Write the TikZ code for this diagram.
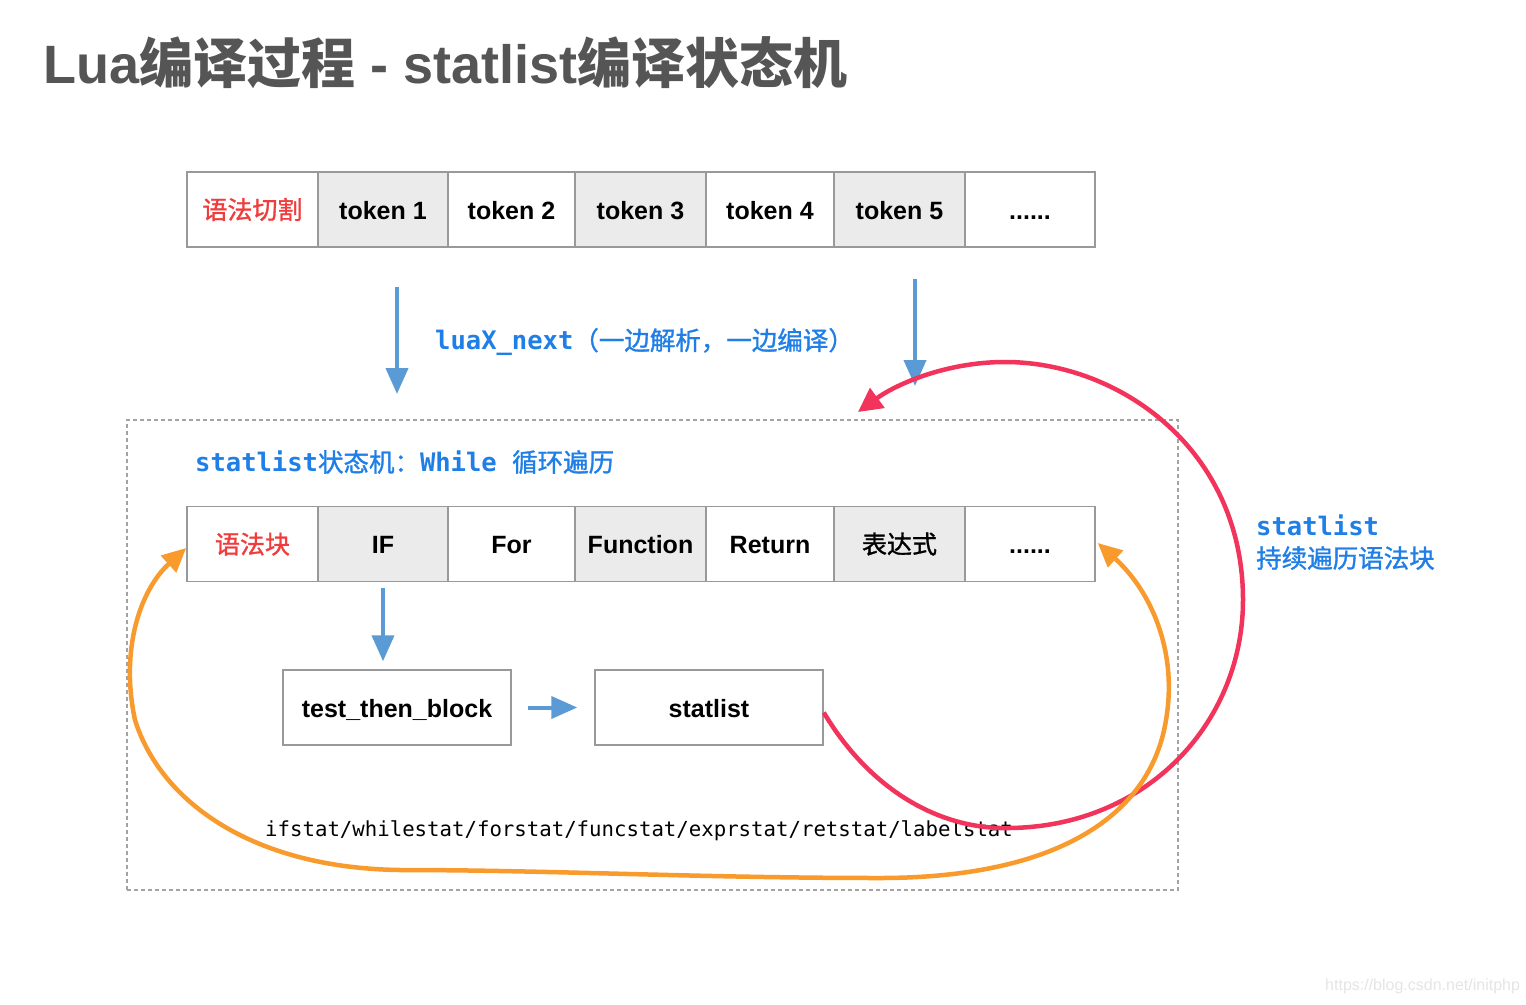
\documentclass[tikz,border=0pt]{standalone}
\usepackage{fontspec}
\setmainfont{Liberation Sans}
\newfontfamily\cjk{Noto Sans CJK SC}
\newfontfamily\cjkm{Noto Sans CJK SC}[FakeBold=1.2]
\newfontfamily\monof{DejaVu Sans Mono}
\usetikzlibrary{arrows.meta}
\definecolor{boxgray}{HTML}{999999}
\definecolor{cellfill}{HTML}{EBEBEB}
\definecolor{redtxt}{HTML}{F03C3C}
\definecolor{bluetxt}{HTML}{1F7FE6}
\definecolor{arrowblue}{HTML}{5B9BD5}
\definecolor{curvered}{HTML}{F2335B}
\definecolor{curveorange}{HTML}{F89A2C}
\definecolor{titlegray}{HTML}{555555}
\newcommand\lblfont{\fontsize{25}{30}\selectfont\bfseries}
\newcommand\bluefont{\fontsize{25.5}{30}\selectfont\bfseries}
\begin{document}
\begin{tikzpicture}[x=1pt,y=-1pt,
  cell/.style={draw=boxgray, line width=1.5pt, minimum height=75pt, inner sep=0pt, text height=19pt, text depth=0pt, font=\lblfont, text=black},
  grey/.style={fill=cellfill},
  frame/.style={draw=boxgray!90, line width=1.2pt, dash pattern=on 4pt off 3pt, minimum width=1051pt, minimum height=470pt, inner sep=0pt},
  barrow/.style={draw=arrowblue, line width=4pt, -{Triangle[width=22pt,length=26pt]}},
  redcurve/.style={draw=curvered, line width=4.5pt, -{Triangle[width=24pt,length=24pt]}},
  orangecurve/.style={draw=curveorange, line width=4.5pt, {Triangle[width=22pt,length=24pt]}-{Triangle[width=22pt,length=24pt]}},
  bluelbl/.style={text=bluetxt, font=\bluefont\monof, inner sep=0pt},
]
\useasboundingbox (0,0) rectangle (1526,1004);
\fill[white] (0,0) rectangle (1526,1004);

% title
\node[anchor=base west, inner sep=0pt, text=titlegray, font=\fontsize{54}{60}\selectfont\bfseries] (title) at (43,83)
  {Lua{\cjk 编译过程} - statlist{\cjk 编译状态机}};

% top row
\node[cell, minimum width=131pt, text=redtxt] (t0) at (252.5,209.5) {\cjkm\mdseries 语法切割};
\node[cell, grey, minimum width=130pt] (t1) at (383,209.5) {token 1};
\node[cell, minimum width=127pt] (t2) at (511.5,209.5) {token 2};
\node[cell, grey, minimum width=131pt] (t3) at (640.5,209.5) {token 3};
\node[cell, minimum width=128pt] (t4) at (770,209.5) {token 4};
\node[cell, grey, minimum width=131pt] (t5) at (899.5,209.5) {token 5};
\node[cell, minimum width=130pt] (t6) at (1030,209.5) {......};

% blue arrows below tokens
\coordinate (a1s) at (397,287);
\coordinate (a1e) at (397,394);
\coordinate (a2s) at (915,279);
\coordinate (a2e) at (915,386);
\draw[barrow] (a1s) -- (a1e);
\draw[barrow] (a2s) -- (a2e);
\node[bluelbl, anchor=west] (lx) at (435,342) {luaX\_next{\cjkm\mdseries （一边解析，一边编译）}};

% frame
\node[frame] (frame) at (652.5,655) {};
\node[bluelbl, anchor=west] (sm) at (195,462) {statlist{\cjkm\mdseries 状态机：}While {\cjkm\mdseries 循环遍历}};

% second row
\node[cell, minimum width=131pt, text=redtxt] (s0) at (252.5,544) {\cjkm\mdseries 语法块};
\node[cell, grey, minimum width=130pt] (s1) at (383,544) {IF};
\node[cell, minimum width=127pt] (s2) at (511.5,544) {For};
\node[cell, grey, minimum width=131pt] (s3) at (640.5,544) {Function};
\node[cell, minimum width=128pt] (s4) at (770,544) {Return};
\node[cell, grey, minimum width=131pt] (s5) at (899.5,544) {\cjkm\mdseries 表达式};
\node[cell, minimum width=130pt] (s6) at (1030,544) {......};

% lower boxes
\node[cell, minimum width=228pt] (tb) at (397,707.5) {test\_then\_block};
\node[cell, minimum width=228pt] (sl) at (709,707.5) {statlist};

\draw[barrow] ([yshift=-6pt]s1.south) -- ([yshift=8pt]s1.south |- tb.north);
\draw[barrow, shorten <=16pt, shorten >=17pt] (tb.east) -- (sl.west);

% bottom text
\node[anchor=west, inner sep=0pt, font=\fontsize{20.7}{24}\selectfont\monof, text=black] (stats) at (265,831)
  {ifstat/whilestat/forstat/funcstat/exprstat/retstat/labelstat};

% red loop
\coordinate (rede) at (858,412);
\draw[redcurve] ([yshift=-5pt]sl.east)
  .. controls (870,790) and (940,830) .. (1010,828)
  .. controls (1150,826) and (1243,720) .. (1243,600)
  .. controls (1243,450) and (1120,362) .. (1005,362)
  .. controls (945,362) and (895,385) .. (rede);

% orange loop
\draw[orangecurve] ([xshift=2pt,yshift=1pt]s6.east)
  .. controls (1150,590) and (1178,650) .. (1166,720)
  .. controls (1150,820) and (1050,878) .. (880,878)
  .. controls (700,878) and (550,870) .. (400,870)
  .. controls (250,868) and (160,800) .. (135,720)
  .. controls (120,650) and (140,590) .. ([yshift=-4pt]s0.west);

% right label
\node[bluelbl, anchor=west] (rl1) at (1256,525) {statlist};
\node[bluelbl, anchor=west] (rl2) at (1256,558) {\cjkm\mdseries 持续遍历语法块};

% watermark
\node[anchor=west, inner sep=0pt, text=black!10, font=\fontsize{16}{18}\selectfont] (wm) at (1325,986) {https://blog.csdn.net/initphp};
\end{tikzpicture}
\end{document}
